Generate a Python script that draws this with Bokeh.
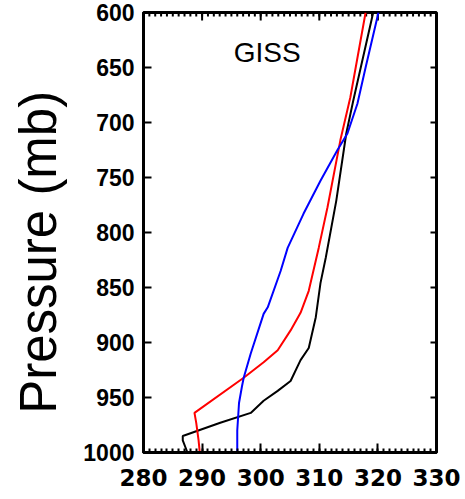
import math
from bokeh.plotting import figure
from bokeh.layouts import row
from bokeh.models import Range1d, FixedTicker
from bokeh.core.properties import value
from bokeh.embed import file_html
from bokeh.resources import INLINE

# Black profile (temperature K, pressure mb)
temp_black = [287.5, 286.7, 286.7, 293.1, 298.3, 300.5, 302.9, 305.1, 306.8, 308.2,
              309.4, 310.2, 311.1, 312.9, 314.6, 315.8, 319.2]
pres_black = [1000, 989, 985, 973, 964, 953, 944, 935, 916, 905,
              877, 846, 823, 771, 710, 680, 600]

# Red profile
temp_red = [289.6, 289.4, 289.0, 288.7, 297.1, 300.5, 302.9, 305.1, 306.8, 308.2,
            309.9, 311.4, 313.6, 315.3, 317.9]
pres_red = [1000, 989, 973, 964, 932, 918, 907, 889, 873, 853,
            814, 777, 716, 677, 600]

# Blue profile
temp_blue = [296.0, 296.0, 296.3, 296.8, 297.1, 298.3, 300.5, 301.2, 303.4, 304.6,
             307.3, 310.2, 313.1, 314.8, 316.5, 317.9, 320.1]
pres_blue = [1000, 980, 955, 940, 932, 910, 874, 868, 835, 814,
             783, 753, 725, 710, 683, 650, 600]

x_min, x_max = 280, 330
y_top, y_bottom = 600, 1000
x_ticks = [280, 290, 300, 310, 320, 330]
x_minor_ticks = list(range(280, 331))
y_ticks = [600, 650, 700, 750, 800, 850, 900, 950, 1000]

title_text = "GISS"
y_label_text = "Pressure (mb)"

LABEL_W = 70
W, H = 465, 499

# narrow panel holding the rotated y-axis title
lab = figure(width=LABEL_W, height=H, output_backend="svg", toolbar_location=None,
             x_range=Range1d(0, LABEL_W), y_range=Range1d(0, H),
             x_axis_type=None, y_axis_type=None, min_border=0)
lab.grid.visible = False
lab.outline_line_color = None
lab.background_fill_color = "white"
lab.border_fill_color = "white"
lab.text(x=[37.5], y=[227], text=[y_label_text], angle=math.pi / 2,
         text_font=value("Liberation Sans"), text_font_size="51px", text_color="black",
         text_align="center", text_baseline="alphabetic")

p = figure(width=W - LABEL_W, height=H, output_backend="svg", toolbar_location=None,
           x_range=Range1d(x_min, x_max), y_range=Range1d(y_bottom, y_top),
           min_border_left=143 - LABEL_W, min_border_right=29, min_border_top=12,
           min_border_bottom=47)
p.grid.visible = False
p.outline_line_color = "black"
p.outline_line_width = 3
p.background_fill_color = "white"
p.border_fill_color = "white"

xa = p.xaxis[0]
xa.ticker = FixedTicker(ticks=x_ticks, minor_ticks=x_minor_ticks)
xa.axis_line_width = 3
xa.major_tick_in = 9
xa.major_tick_out = 0
xa.major_tick_line_width = 2
xa.minor_tick_in = 4
xa.minor_tick_out = 0
xa.minor_tick_line_width = 2
xa.major_label_text_font = "DejaVu Sans"
xa.major_label_text_font_style = "bold"
xa.major_label_text_font_size = "23px"
xa.major_label_text_color = "black"
xa.major_label_standoff = 16

ya = p.yaxis[0]
ya.ticker = FixedTicker(ticks=y_ticks, minor_ticks=[])
ya.axis_line_width = 3
ya.major_tick_in = 8
ya.major_tick_out = 0
ya.major_tick_line_width = 2
ya.minor_tick_line_color = None
ya.major_label_text_font = "Liberation Sans"
ya.major_label_text_font_style = "bold"
ya.major_label_text_font_size = "23px"
ya.major_label_text_color = "black"
ya.major_label_standoff = 9

# inward ticks on the top and right frame edges (half of each dash is clipped by the frame)
p.scatter(x_ticks, [y_top] * len(x_ticks), marker="dash", size=16, angle=math.pi / 2,
          line_color="black", line_width=2)
p.scatter(x_minor_ticks, [y_top] * len(x_minor_ticks), marker="dash", size=8,
          angle=math.pi / 2, line_color="black", line_width=2)
p.scatter([x_max] * len(y_ticks), y_ticks, marker="dash", size=12,
          line_color="black", line_width=2)

p.line(temp_black, pres_black, line_color="black", line_width=2)
p.line(temp_red, pres_red, line_color="#ff0000", line_width=2)
p.line(temp_blue, pres_blue, line_color="#0000ff", line_width=2)

p.text(x=[295.4], y=[636.0], text=[title_text], text_font=value("Liberation Sans"),
       text_font_size="28px", text_color="black", text_baseline="alphabetic",
       text_align="left")

layout = row(lab, p, spacing=0)
open("out.html", "w").write(file_html(layout, INLINE))
